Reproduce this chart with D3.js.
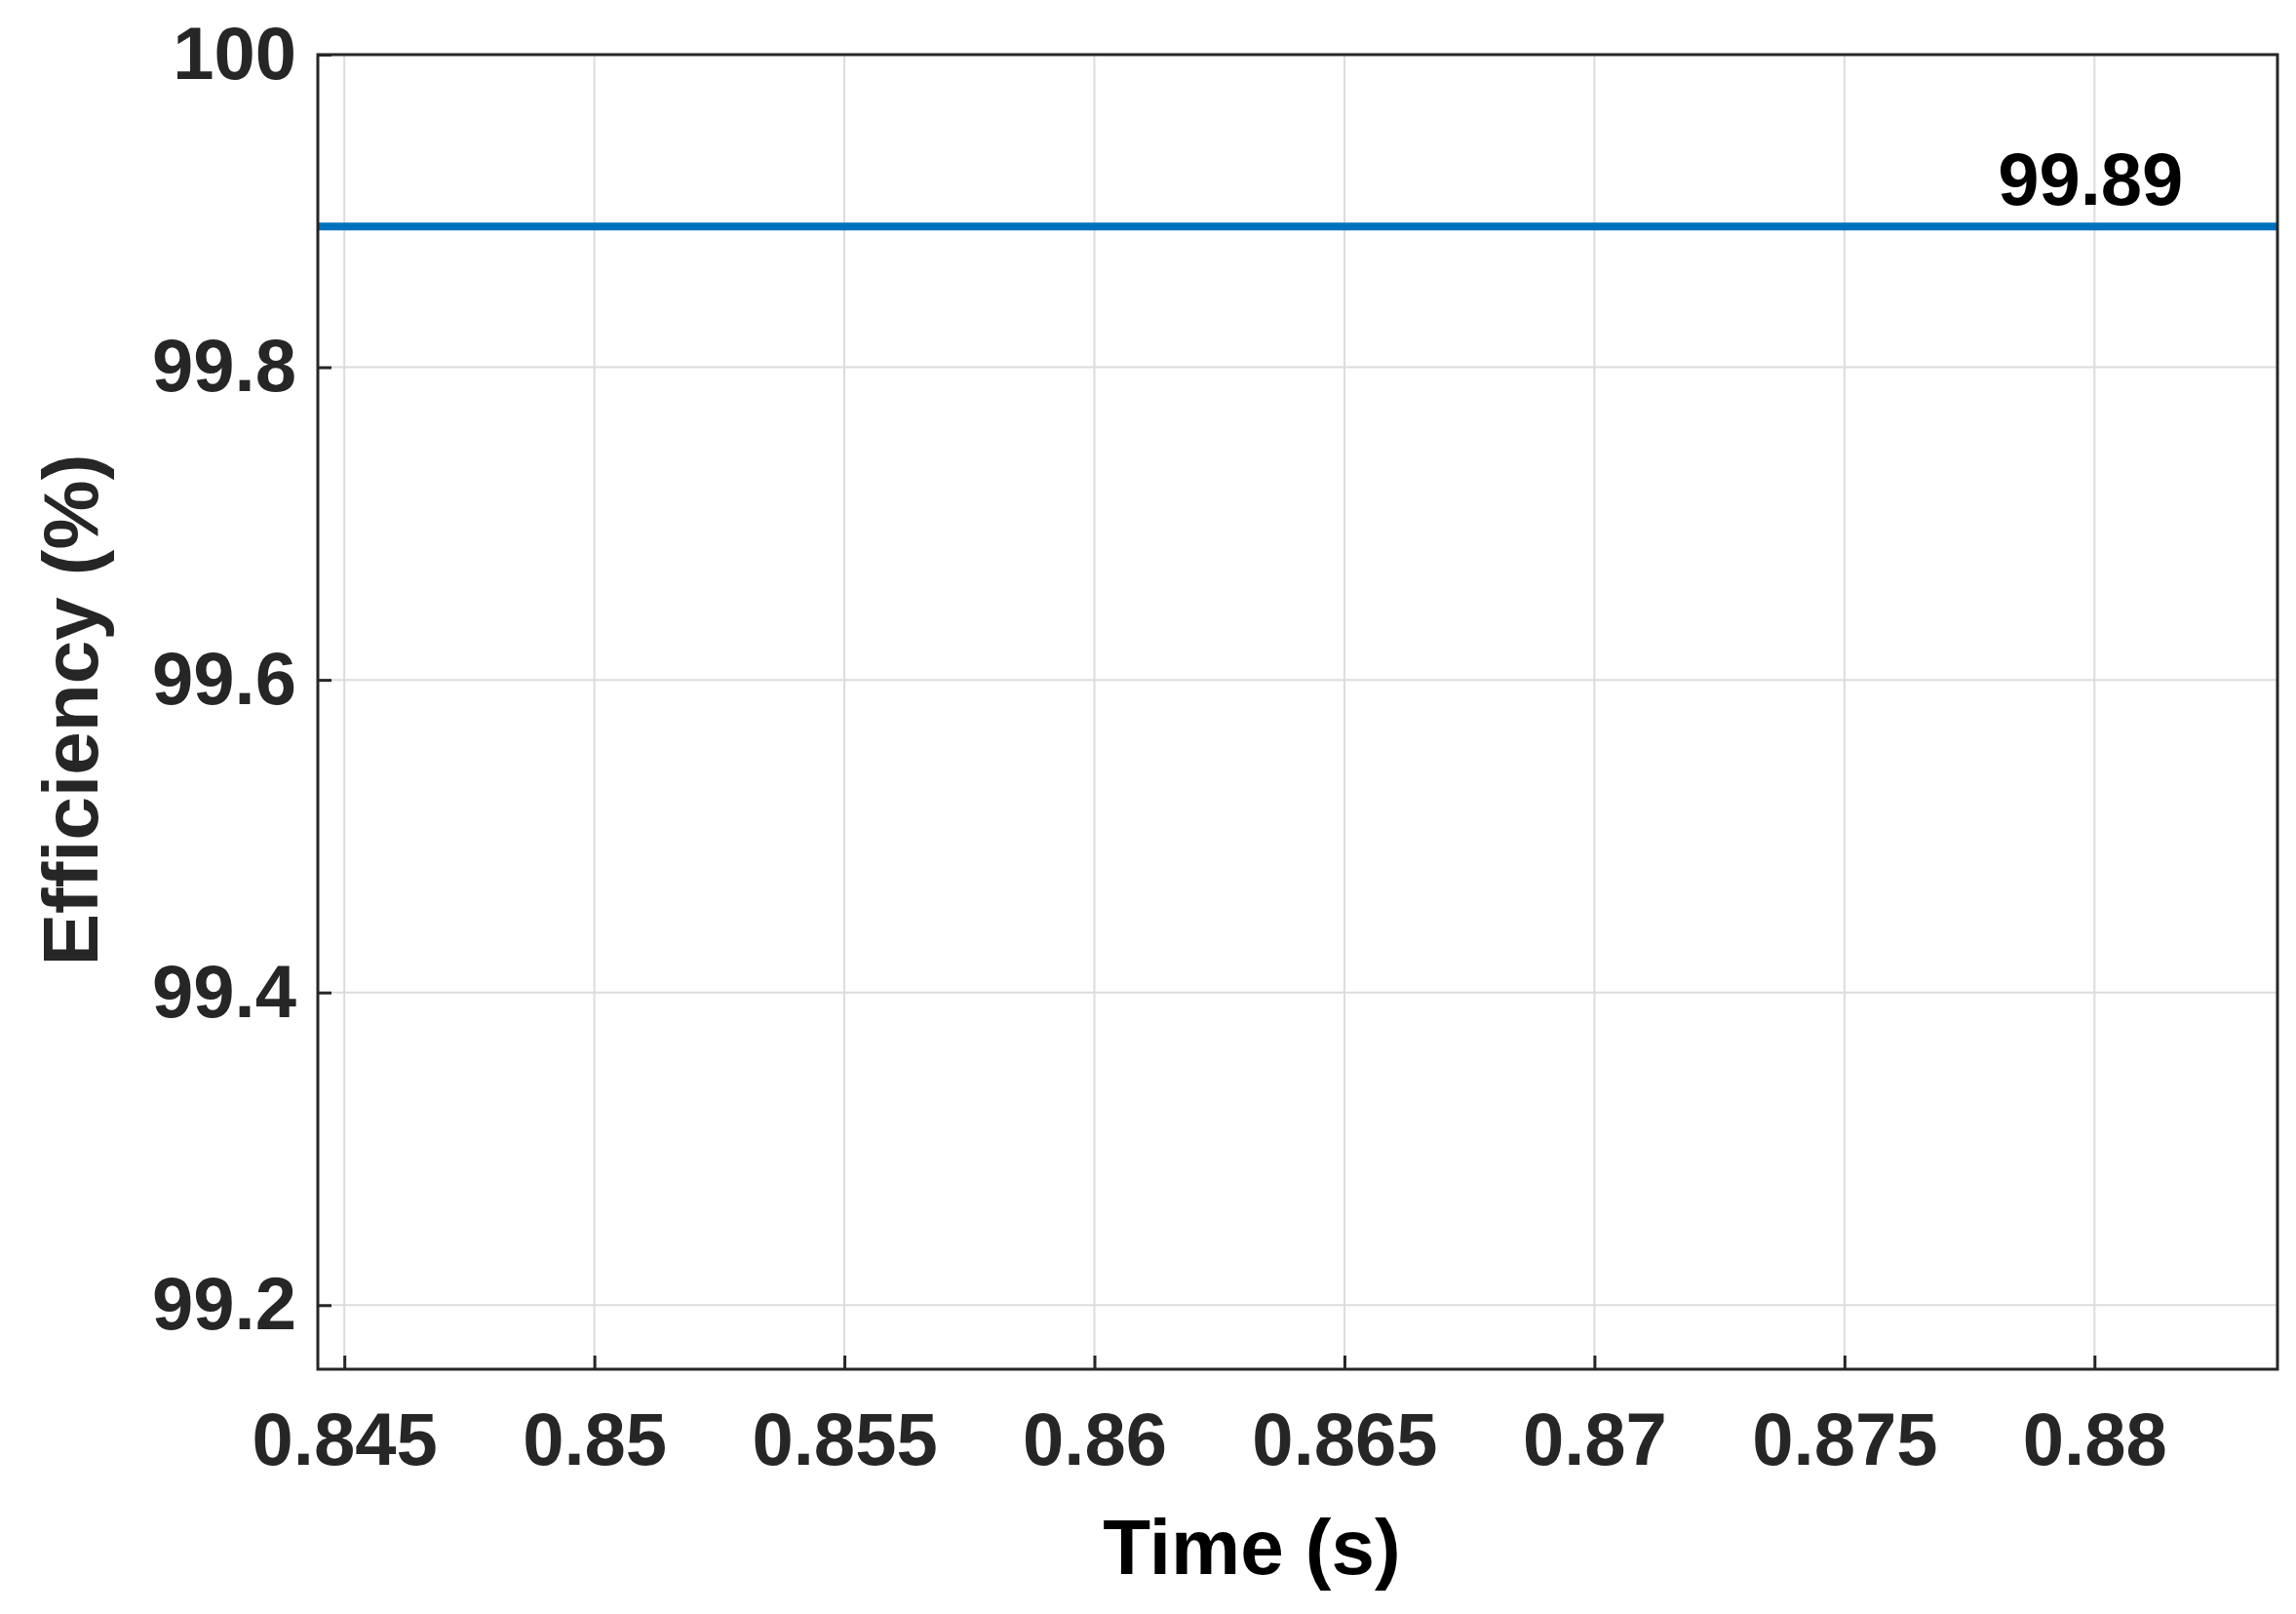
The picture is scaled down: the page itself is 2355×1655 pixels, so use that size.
<!DOCTYPE html>
<html><head><meta charset="utf-8">
<script src="https://cdn.jsdelivr.net/npm/d3@7"></script>
<style>body{margin:0;background:#fff}text{font-family:"Liberation Sans",Arial,sans-serif}</style>
</head><body><div id="chart"></div>
<script>
const xTicks = [0.845, 0.85, 0.855, 0.86, 0.865, 0.87, 0.875, 0.88];
const yTicks = [99.2, 99.4, 99.6, 99.8, 100];
const times = [0.84447, 0.88366];
const efficiency = [99.89, 99.89];
const annotation = {t: 0.88, v: 99.89, label: '99.89'};

const W = 2355, H = 1655;
const m = {left: 326, right: 2336, top: 56, bottom: 1404};
const svg = d3.select('#chart').append('svg').attr('width', W).attr('height', H);
const x = d3.scaleLinear().domain([0.84447, 0.88366]).range([m.left, m.right]);
const y = d3.scaleLinear().domain([99.159, 100]).range([m.bottom, m.top]);

const grid = svg.append('g').attr('stroke', '#dcdcdc').attr('stroke-width', 2);
xTicks.forEach(t => grid.append('line').attr('x1', x(t)).attr('x2', x(t)).attr('y1', m.top).attr('y2', m.bottom));
yTicks.forEach(t => grid.append('line').attr('y1', y(t)).attr('y2', y(t)).attr('x1', m.left).attr('x2', m.right));

const line = d3.line().x((d, i) => x(times[i])).y(d => y(d));
svg.append('path').datum(efficiency).attr('d', line).attr('fill', 'none')
    .attr('stroke', '#0072BD').attr('stroke-width', 8);

svg.append('text').attr('x', x(annotation.t) - 4).attr('y', y(annotation.v) - 22)
    .attr('text-anchor', 'middle').attr('font-size', 76).attr('font-weight', 'bold')
    .attr('fill', '#000').text(annotation.label);

svg.append('rect').attr('x', m.left).attr('y', m.top).attr('width', m.right - m.left)
    .attr('height', m.bottom - m.top).attr('fill', 'none').attr('stroke', '#262626').attr('stroke-width', 3);

const xa = svg.append('g').attr('transform', `translate(0,${m.bottom})`)
    .call(d3.axisBottom(x).tickValues(xTicks).tickFormat(d => String(+d.toFixed(3))).tickSize(-14).tickPadding(44));
const ya = svg.append('g').attr('transform', `translate(${m.left},0)`)
    .call(d3.axisLeft(y).tickValues(yTicks).tickFormat(d => String(+d.toFixed(1))).tickSize(-14).tickPadding(22));
[xa, ya].forEach(a => {
    a.select('.domain').remove();
    a.selectAll('line').attr('stroke', '#262626').attr('stroke-width', 3);
    a.selectAll('text').attr('font-size', 76).attr('font-weight', 'bold').attr('fill', '#262626')
        .style('font-family', '"Liberation Sans",Arial,sans-serif');
});
xa.selectAll('text').attr('dy', '0.71em');

svg.append('text').attr('x', 1284).attr('y', 1614).attr('text-anchor', 'middle')
    .attr('font-size', 80).attr('font-weight', 'bold').attr('fill', '#000').text('Time (s)');
svg.append('text').attr('transform', `translate(100,728) rotate(-90)`)
    .attr('text-anchor', 'middle').attr('font-size', 80).attr('font-weight', 'bold')
    .attr('fill', '#262626').text('Efficiency (%)');
</script></body></html>
